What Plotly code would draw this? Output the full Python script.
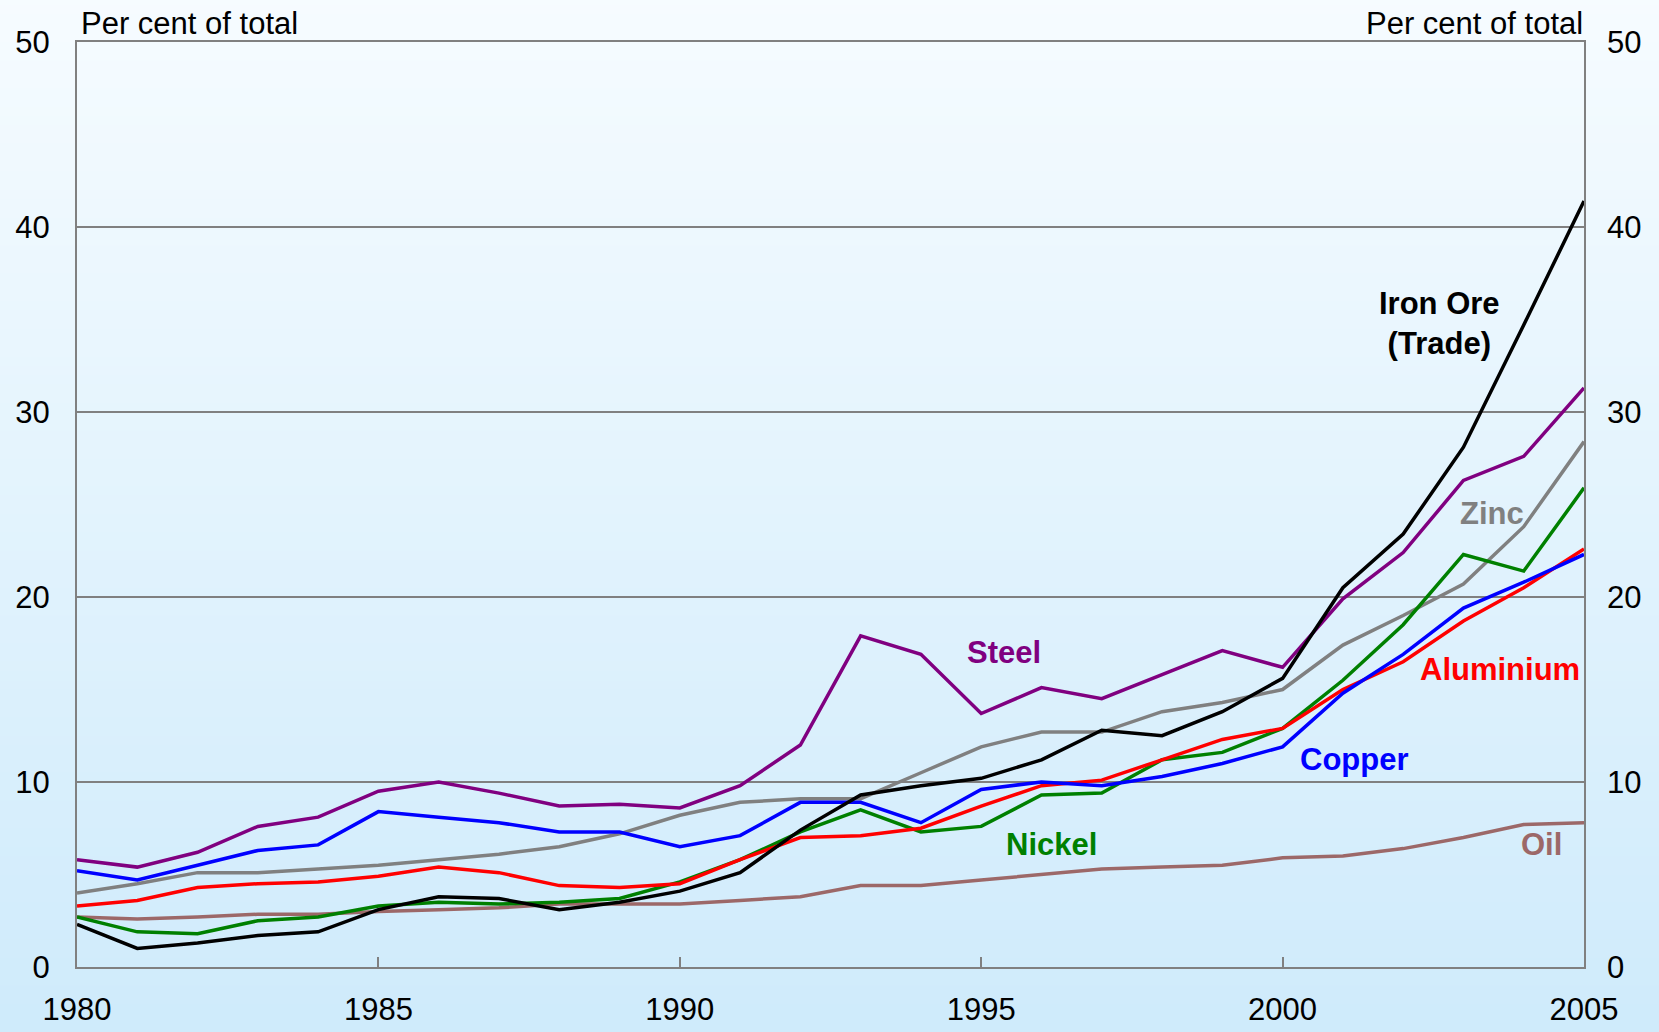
import plotly.graph_objects as go

years = list(range(1980, 2006))

iron_ore = [2.3, 1.0, 1.3, 1.7, 1.9, 3.1, 3.8, 3.7, 3.1, 3.5, 4.1, 5.1, 7.4, 9.3, 9.8, 10.2,
            11.2, 12.8, 12.5, 13.8, 15.6, 20.5, 23.4, 28.1, 34.7, 41.4]
steel = [5.8, 5.4, 6.2, 7.6, 8.1, 9.5, 10.0, 9.4, 8.7, 8.8, 8.6, 9.8, 12.0, 17.9, 16.9, 13.7,
         15.1, 14.5, 15.8, 17.1, 16.2, 19.9, 22.4, 26.3, 27.6, 31.3]
zinc = [4.0, 4.5, 5.1, 5.1, 5.3, 5.5, 5.8, 6.1, 6.5, 7.2, 8.2, 8.9, 9.1, 9.1, 10.5, 11.9,
        12.7, 12.7, 13.8, 14.3, 15.0, 17.4, 19.0, 20.7, 23.8, 28.4]
nickel = [2.7, 1.9, 1.8, 2.5, 2.7, 3.3, 3.5, 3.4, 3.5, 3.7, 4.6, 5.8, 7.3, 8.5, 7.3, 7.6,
          9.3, 9.4, 11.2, 11.6, 12.9, 15.5, 18.5, 22.3, 21.4, 25.9]
aluminium = [3.3, 3.6, 4.3, 4.5, 4.6, 4.9, 5.4, 5.1, 4.4, 4.3, 4.5, 5.8, 7.0, 7.1, 7.5, 8.7,
             9.8, 10.1, 11.2, 12.3, 12.9, 15.0, 16.5, 18.7, 20.5, 22.6]
copper = [5.2, 4.7, 5.5, 6.3, 6.6, 8.4, 8.1, 7.8, 7.3, 7.3, 6.5, 7.1, 8.9, 8.9, 7.8, 9.6,
          10.0, 9.8, 10.3, 11.0, 11.9, 14.8, 16.9, 19.4, 20.8, 22.3]
oil = [2.7, 2.6, 2.7, 2.85, 2.85, 3.0, 3.1, 3.2, 3.4, 3.4, 3.4, 3.6, 3.8, 4.4, 4.4, 4.7,
       5.0, 5.3, 5.4, 5.5, 5.9, 6.0, 6.4, 7.0, 7.7, 7.8]

series = [
    ("Oil", oil, "#9C6868"),
    ("Zinc", zinc, "#808080"),
    ("Nickel", nickel, "#008000"),
    ("Aluminium", aluminium, "#FF0000"),
    ("Copper", copper, "#0000FF"),
    ("Steel", steel, "#800080"),
    ("Iron Ore (Trade)", iron_ore, "#000000"),
]

# label text, x (year), y (value), colour
labels = [
    ("Iron Ore<br>(Trade)", 2002.6, 34.8, "#000000"),
    ("Steel", 1995.38, 17.0, "#800080"),
    ("Zinc", 2003.47, 24.5, "#808080"),
    ("Aluminium", 2003.6, 16.1, "#FF0000"),
    ("Copper", 2001.2, 11.2, "#0000FF"),
    ("Nickel", 1996.17, 6.6, "#008000"),
    ("Oil", 2004.3, 6.6, "#9C6868"),
]

y_ticks = [0, 10, 20, 30, 40, 50]
x_ticks = [1980, 1985, 1990, 1995, 2000, 2005]

FONT = "Liberation Sans, Arial, sans-serif"
FS = 31

fig = go.Figure()
for name, vals, col in series:
    fig.add_trace(go.Scatter(x=years, y=vals, mode="lines", name=name,
                             line=dict(color=col, width=3.5), showlegend=False,
                             hoverinfo="x+y+name"))
# invisible trace for the right axis
fig.add_trace(go.Scatter(x=[years[0]], y=[0], yaxis="y2", mode="markers",
                         marker=dict(opacity=0), showlegend=False, hoverinfo="skip"))

# gradient background via thin bands
shapes = []
n = 120
y0p, y1p = -0.12, 1.08
top = (247, 252, 255)
bot = (205, 234, 251)
for i in range(n):
    t = i / (n - 1)
    c = tuple(round(bot[k] + (top[k] - bot[k]) * t) for k in range(3))
    ya = y0p + (y1p - y0p) * i / n
    yb = y0p + (y1p - y0p) * (i + 1) / n + 0.002
    shapes.append(dict(type="rect", xref="paper", yref="paper", x0=-0.2, x1=1.2,
                       y0=ya, y1=yb, line=dict(width=0),
                       fillcolor="rgb(%d,%d,%d)" % c, layer="below"))

annotations = []
for txt, x, y, col in labels:
    annotations.append(dict(x=x, y=y, xref="x", yref="y", text="<b>" + txt + "</b>",
                            showarrow=False, font=dict(family=FONT, size=FS, color=col),
                            align="center"))
annotations.append(dict(x=0, y=1, xref="paper", yref="paper", xanchor="left", yanchor="bottom",
                        text="Per cent of total", showarrow=False, xshift=2, yshift=-1,
                        font=dict(family=FONT, size=FS, color="#000000")))
annotations.append(dict(x=1, y=1, xref="paper", yref="paper", xanchor="right", yanchor="bottom",
                        text="Per cent of total", showarrow=False, xshift=1, yshift=-1,
                        font=dict(family=FONT, size=FS, color="#000000")))

fig.update_layout(
    width=1659, height=1032,
    margin=dict(l=77, r=75, t=42, b=65, autoexpand=False),
    paper_bgcolor="rgba(0,0,0,0)",
    plot_bgcolor="rgba(0,0,0,0)",
    font=dict(family=FONT, size=FS, color="#000000"),
    shapes=shapes,
    annotations=annotations,
    xaxis=dict(range=[1980, 2005], tickvals=x_ticks, ticktext=[str(v) for v in x_ticks],
               showgrid=False, zeroline=False, showline=True, linecolor="#808080",
               linewidth=2, mirror=True, ticks="inside", ticklen=10, tickwidth=2,
               tickcolor="#808080", tickfont=dict(size=FS), ticklabelstandoff=14,
               automargin=False),
    yaxis=dict(range=[0, 50], tickvals=y_ticks, showgrid=True, gridcolor="#808080",
               gridwidth=1.5, zeroline=False, showline=True, linecolor="#808080",
               linewidth=2, mirror=True, ticks="", tickfont=dict(size=FS),
               ticklabelstandoff=19, automargin=False),
    yaxis2=dict(range=[0, 50], tickvals=y_ticks, overlaying="y", side="right",
                showgrid=False, zeroline=False, showline=False, ticks="",
                tickfont=dict(size=FS), ticklabelstandoff=22, automargin=False),
)

fig.write_html("out.html", config={"displayModeBar": False},
               post_script="document.body.style.margin='0';"
                           "document.body.style.background='rgb(205,234,251)';")
